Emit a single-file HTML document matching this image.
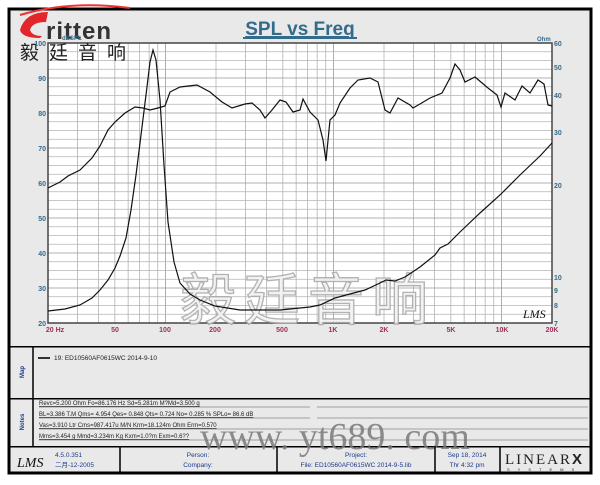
<!DOCTYPE html>
<html><head><meta charset="utf-8"><style>
body{margin:0;background:#fff;width:600px;height:480px;overflow:hidden;font-family:"Liberation Sans",sans-serif}
</style></head><body>
<svg width="600" height="480" xmlns="http://www.w3.org/2000/svg" font-family="Liberation Sans, Noto Sans CJK SC, sans-serif">
<rect x="0" y="0" width="600" height="480" fill="#fff"/>
<rect x="9" y="9" width="582" height="464" fill="#e9e9e9" stroke="#000" stroke-width="3"/>
<path d="M20 15 Q70 0 130 8" stroke="#e33" stroke-width="2" fill="none"/>
<path d="M20 30 Q25 12 48 12 L46 22 Q32 22 30 30 Q32 36 42 36 L40 38 Q22 38 20 30Z" fill="#e2262b"/>
<text x="46" y="39" font-size="24" font-weight="bold" fill="#333" letter-spacing="1">ritten</text>
<text x="300" y="35" font-size="19" font-weight="bold" fill="#336b8c" text-anchor="middle" text-decoration="underline">SPL vs Freq</text>
<line x1="243" y1="38" x2="357" y2="38" stroke="#336b8c" stroke-width="2"/>
<rect x="48" y="43" width="504" height="280" fill="#fff"/>
<g stroke="#b4b4b4" stroke-width="0.8" id="grid"></g>
<rect x="48" y="43" width="504" height="280" fill="none" stroke="#444" stroke-width="1.5"/>
<text x="20" y="59" font-size="19" fill="#222" font-family="Noto Sans CJK SC, sans-serif" letter-spacing="10">毅廷音响</text>
<g font-size="7" fill="#336b8c" font-weight="bold" text-anchor="end">
<text x="46" y="46">100</text><text x="46" y="81">90</text><text x="46" y="116">80</text><text x="46" y="151">70</text><text x="46" y="186">60</text><text x="46" y="221">50</text><text x="46" y="256">40</text><text x="46" y="291">30</text><text x="46" y="326">20</text>
<text x="62" y="40" text-anchor="start" font-size="6">dBSPL</text>
</g>
<g font-size="7" fill="#336b8c" font-weight="bold">
<text x="554" y="46">60</text><text x="554" y="70">50</text><text x="554" y="98">40</text><text x="554" y="135">30</text><text x="554" y="188">20</text><text x="554" y="280">10</text><text x="554" y="293">9</text><text x="554" y="308">8</text><text x="554" y="326">7</text>
<text x="537" y="41" font-size="6">Ohm</text>
</g>
<g font-size="7" fill="#a0305a" font-weight="bold" text-anchor="middle">
<text x="55" y="332">20 Hz</text><text x="115" y="332">50</text><text x="165" y="332">100</text><text x="215" y="332">200</text><text x="282" y="332">500</text><text x="333" y="332">1K</text><text x="384" y="332">2K</text><text x="451" y="332">5K</text><text x="502" y="332">10K</text><text x="552" y="332">20K</text>
</g>
<text x="180" y="320" font-size="56" fill="#f2f2f2" stroke="#aaa" stroke-width="1.3" font-family="Noto Sans CJK SC, sans-serif" letter-spacing="8" opacity="0.9">毅廷音响</text>
<path fill="none" stroke="#111" stroke-width="1.2" d="M48 188 L60 182 L68 176 L80 170 L92 158 L100 146 L108 130 L115 122 L125 113 L135 107 L143 108 L150 110 L158 108 L165 106 L170 92 L180 87 L197 85 L210 92 L222 102 L232 108 L245 104 L252 103 L260 110 L265 118 L272 110 L280 100 L286 102 L293 112 L300 110 L303 99 L310 112 L318 120 L323 140 L326 161 L330 120 L335 115 L340 103 L350 88 L358 80 L370 78 L378 82 L385 110 L390 113 L398 98 L410 105 L413 108 L420 104 L430 98 L442 93 L450 78 L455 64 L460 70 L465 82 L475 77 L488 88 L497 95 L501 107 L505 93 L515 100 L522 86 L530 93 L538 80 L544 84 L548 105 L552 106"/>
<path fill="none" stroke="#111" stroke-width="1.2" d="M48 311 L65 309 L80 305 L92 298 L100 290 L108 280 L115 268 L120 256 L126 238 L131 210 L136 175 L141 135 L146 95 L150 62 L153 50 L156 60 L160 100 L164 165 L168 222 L174 262 L180 283 L190 294 L200 300 L215 306 L240 310 L280 310 L310 307 L320 305 L335 298 L350 294 L365 290 L380 283 L386 280 L395 281 L405 277 L420 267 L435 255 L440 248 L448 244 L460 232 L480 213 L500 195 L520 175 L540 156 L552 143"/>
<text x="523" y="318" font-size="12" font-style="italic" fill="#111" font-family="Liberation Serif,serif">LMS</text>
<rect x="9" y="346" width="582" height="1.5" fill="#000"/>
<rect x="9" y="398" width="582" height="1.5" fill="#000"/>
<rect x="9" y="446" width="582" height="1.5" fill="#000"/>
<line x1="33" y1="346" x2="33" y2="446" stroke="#000" stroke-width="1.5"/>
<text transform="translate(24,372) rotate(-90)" font-size="6" fill="#1a3c8c" font-weight="bold" text-anchor="middle">Map</text>
<text transform="translate(24,422) rotate(-90)" font-size="6" fill="#1a3c8c" font-weight="bold" text-anchor="middle">Notes</text>
<line x1="38" y1="358" x2="50" y2="358" stroke="#333" stroke-width="2"/>
<text x="54" y="360" font-size="6.5" fill="#222">19: ED10560AF0615WC   2014-9-10</text>
<g font-size="6" fill="#222" text-decoration="underline">
<text x="39" y="405">Revc=5.200 Ohm  Fo=86.176 Hz  Sd=5.281m M?Md=3.500 g</text>
<text x="39" y="416">BL=3.386 T.M  Qms= 4.954  Qes= 0.848  Qts= 0.724  No= 0.285 %  SPLo= 86.6 dB</text>
<text x="39" y="427">Vas=3.910 Ltr  Cms=987.417u M/N  Krm=18.124m Ohm  Erm=0.570</text>
<text x="39" y="438">Mms=3.454 g  Mmd=3.234m Kg  Kxm=1.0?m  Exm=0.6??</text>
</g>
<g stroke="#555" stroke-width="0.6">
<line x1="39" y1="407" x2="310" y2="407"/><line x1="317" y1="407" x2="588" y2="407"/>
<line x1="39" y1="418" x2="310" y2="418"/><line x1="317" y1="418" x2="588" y2="418"/>
<line x1="39" y1="429" x2="588" y2="429"/><line x1="39" y1="440" x2="588" y2="440"/>
</g>
<text x="200" y="449" font-size="38" fill="#7a7a7a" font-family="Liberation Serif,serif" opacity="0.85">www. yt689. com</text>
<g stroke="#000" stroke-width="1.5"><line x1="120" y1="446" x2="120" y2="473"/><line x1="277" y1="446" x2="277" y2="473"/><line x1="435" y1="446" x2="435" y2="473"/><line x1="500" y1="446" x2="500" y2="473"/></g>
<text x="17" y="467" font-size="14" font-style="italic" fill="#111" font-family="Liberation Serif,serif">LMS</text>
<g font-size="6.5" fill="#1a3c8c"><text x="55" y="457">4.5.0.351</text><text x="55" y="467" font-family="Liberation Sans,Noto Sans CJK SC,sans-serif">二月-12-2005</text></g>
<g font-size="6.5" fill="#1a3c8c" text-anchor="middle"><text x="198" y="457">Person:</text><text x="198" y="467">Company:</text>
<text x="356" y="457">Project:</text><text x="356" y="467">File: ED10560AF0615WC   2014-9-5.lib</text>
<text x="467" y="457">Sep 18, 2014</text><text x="467" y="467">Thr  4:32 pm</text></g>
<text x="505" y="464" font-size="15" fill="#222" font-family="Liberation Serif,serif" letter-spacing="2">LINEAR<tspan font-weight="bold" font-family="Liberation Sans">X</tspan></text>
<text x="507" y="471" font-size="4" fill="#222" letter-spacing="8">SYSTEMS</text>
</svg>
<script>
(function(){var g=document.getElementById('grid'),ns='http://www.w3.org/2000/svg';
function L(x1,y1,x2,y2,c){var l=document.createElementNS(ns,'line');l.setAttribute('x1',x1);l.setAttribute('y1',y1);l.setAttribute('x2',x2);l.setAttribute('y2',y2);if(c)l.setAttribute('stroke',c);g.appendChild(l);}
var fs=[20,30,40,50,60,70,80,90,100,200,300,400,500,600,700,800,900,1000,2000,3000,4000,5000,6000,7000,8000,9000,10000,20000];
fs.forEach(function(f){var x=48+168*Math.log10(f/20);L(x,43,x,323,(f==100||f==1000||f==10000)?'#999':null);});
for(var d=20;d<=100;d+=2.5){var y=323-(d-20)*3.5;L(48,y,552,y,d%10==0?'#999':null);}
})();
</script>
</body></html>
